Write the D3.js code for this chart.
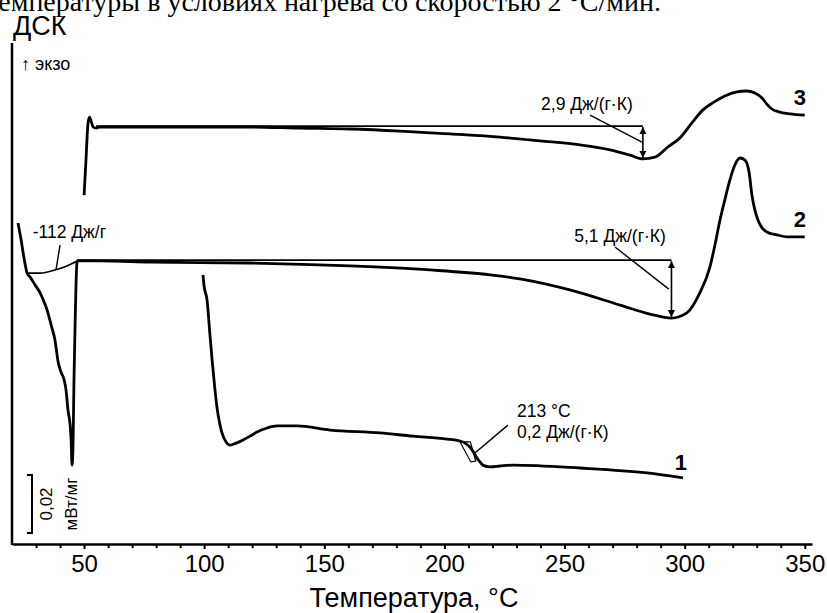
<!DOCTYPE html>
<html>
<head>
<meta charset="utf-8">
<script src="https://cdn.jsdelivr.net/npm/d3@7"></script>
<style>
  html, body { margin: 0; padding: 0; background: #fff; }
  svg { display: block; }
  text { font-family: "Liberation Sans", Arial, sans-serif; fill: #000; }
</style>
</head>
<body>
<svg id="chart" width="827" height="613"></svg>
<script>
// DSC heating curves, heat flow in mW/mg (curves shifted vertically), temperature in °C

// Curve 1
const t1 = [99.5, 99.9, 101.2, 102.4, 103.3, 104.5, 105.3, 106.6, 107.4, 109.1, 110.8, 113.3, 116.2, 119.1, 122.0, 126.2, 130.3, 138.6, 152.4, 173.2, 186.9, 201.1, 206.5, 208.6, 210.6, 212.3, 213.5, 214.8, 216.0, 219.0, 223.1, 228.5, 256.4, 284.3, 299.3];
const hf1 = [0.0928, 0.0893, 0.0841, 0.0721, 0.0634, 0.0531, 0.0472, 0.0410, 0.0383, 0.0352, 0.0341, 0.0348, 0.0359, 0.0372, 0.0386, 0.0400, 0.0407, 0.0407, 0.0393, 0.0383, 0.0372, 0.0362, 0.0355, 0.0348, 0.0334, 0.0314, 0.0297, 0.0283, 0.0272, 0.0266, 0.0269, 0.0272, 0.0262, 0.0245, 0.0228];

// Curve 2
const t2 = [22.5, 23.8, 25.0, 26.3, 27.5, 29.6, 31.7, 33.4, 34.6, 36.3, 37.9, 39.2, 40.4, 41.7, 42.5, 43.3, 44.2, 44.6, 45.0, 45.4, 45.8, 46.3, 46.7, 47.1, 56.7, 77.5, 119.1, 160.7, 194.0, 219.0, 231.4, 252.2, 273.1, 285.5, 294.5, 300.9, 306.3, 310.5, 312.6, 314.7, 316.7, 318.8, 320.9, 323.0, 325.1, 326.8, 328.0, 329.2, 330.5, 332.2, 334.2, 338.4, 342.6, 350.0];
const hf2 = [0.1107, 0.1048, 0.0986, 0.0934, 0.0921, 0.0893, 0.0866, 0.0834, 0.0807, 0.0755, 0.0703, 0.0628, 0.0593, 0.0566, 0.0531, 0.0462, 0.0410, 0.0359, 0.0272, 0.0341, 0.0566, 0.0772, 0.0910, 0.0976, 0.0976, 0.0972, 0.0969, 0.0959, 0.0945, 0.0928, 0.0914, 0.0876, 0.0824, 0.0793, 0.0779, 0.0797, 0.0866, 0.0955, 0.1031, 0.1117, 0.1186, 0.1255, 0.1307, 0.1331, 0.1324, 0.1283, 0.1203, 0.1152, 0.1117, 0.1090, 0.1076, 0.1066, 0.1059, 0.1059];

// Curve 3
const t3 = [50.0, 50.8, 51.3, 51.7, 52.3, 52.9, 53.8, 55.0, 56.7, 77.5, 98.3, 119.1, 139.9, 160.7, 181.5, 202.3, 223.1, 239.8, 256.4, 268.9, 277.2, 282.6, 287.6, 293.0, 298.0, 303.0, 307.6, 311.7, 316.7, 321.7, 325.9, 329.2, 332.2, 334.2, 336.3, 339.2, 343.8, 350.0];
const hf3 = [0.1203, 0.1324, 0.1410, 0.1455, 0.1472, 0.1459, 0.1438, 0.1434, 0.1438, 0.1438, 0.1438, 0.1438, 0.1434, 0.1431, 0.1424, 0.1414, 0.1403, 0.1390, 0.1376, 0.1359, 0.1341, 0.1328, 0.1334, 0.1369, 0.1400, 0.1452, 0.1497, 0.1521, 0.1545, 0.1559, 0.1562, 0.1555, 0.1538, 0.1517, 0.1500, 0.1490, 0.1483, 0.1479];

// Integration baseline under the melting peak of curve 2
const tMeltBase = [26.3, 31.7, 37.9, 42.9, 47.1];
const hfMeltBase = [0.0934, 0.0934, 0.0945, 0.0959, 0.0976];

// Step heights (Δcp) measured at the minima
const step3 = { t: 282.6, from: 0.1441, to: 0.1328, tStart: 55, label: "2,9 Дж/(г·К)" };
const step2 = { t: 294.5, from: 0.0979, to: 0.0779, tStart: 47.1, label: "5,1 Дж/(г·К)" };

// Glass transition of curve 1
const tgLabel = ["213 °C", "0,2 Дж/(г·К)"];
const meltLabel = "-112 Дж/г";
const curveNames = ["1", "2", "3"];

// Axis ticks
const majorTicks = [50, 100, 150, 200, 250, 300, 350];
const minorTicks = d3.range(30, 351, 10).filter(v => v % 50 !== 0);
const scaleBarValue = 0.02;

const svg = d3.select("#chart");
const x = d3.scaleLinear().domain([20, 353]).range([12, 812]);
const y = d3.scaleLinear().domain([0, 0.172]).range([544, 45.2]);

// Title line (continuation from above) and chart header
svg.append("text")
  .attr("x", -14).attr("y", 11)
  .style("font-family", "'Liberation Serif', 'Times New Roman', serif")
  .style("font-size", "28px")
  .text("температуры в условиях нагрева со скоростью 2 °С/мин.");

svg.append("text").attr("x", 13).attr("y", 35)
  .style("font-size", "27px").text("ДСК");

svg.append("text").attr("x", 21).attr("y", 70)
  .style("font-size", "18px").text("↑ экзо");

// Arrow markers
const defs = svg.append("defs");
["start", "end"].forEach(k => {
  defs.append("marker")
    .attr("id", "arr-" + k)
    .attr("viewBox", "0 0 10 10")
    .attr("refX", k === "end" ? 10 : 0).attr("refY", 5)
    .attr("markerWidth", 7).attr("markerHeight", 7)
    .attr("markerUnits", "userSpaceOnUse")
    .attr("orient", "auto")
    .append("path")
    .attr("d", k === "end" ? "M0,0 L10,5 L0,10 Z" : "M10,0 L0,5 L10,10 Z")
    .attr("fill", "#000");
});

// Axes
const xAxis = svg.append("g").attr("transform", "translate(0,544)");
xAxis.append("g")
  .call(d3.axisBottom(x).tickValues(minorTicks).tickSize(4).tickFormat(""))
  .call(g => g.select(".domain").remove())
  .call(g => g.selectAll("line").attr("stroke-width", 2));
xAxis.append("g")
  .call(d3.axisBottom(x).tickValues(majorTicks).tickSize(5).tickSizeOuter(0).tickPadding(6))
  .call(g => g.select(".domain").attr("stroke-width", 2.5))
  .call(g => g.selectAll("line").attr("stroke-width", 2))
  .call(g => g.selectAll("text")
    .style("font-family", "'Liberation Sans', Arial, sans-serif")
    .style("font-size", "24px").attr("fill", "#000"));

svg.append("line")
  .attr("x1", 12).attr("x2", 12).attr("y1", 43).attr("y2", 545)
  .attr("stroke", "#000").attr("stroke-width", 2.5);

svg.append("text")
  .attr("x", 414).attr("y", 607)
  .attr("text-anchor", "middle")
  .style("font-size", "27px")
  .text("Температура, °C");

// Scale bar
const sb0 = 0.0038;
svg.append("path")
  .attr("d", `M27,${y(sb0 + scaleBarValue)} H32 V${y(sb0)} H27`)
  .attr("fill", "none").attr("stroke", "#000").attr("stroke-width", 2);
const sbMid = (y(sb0) + y(sb0 + scaleBarValue)) / 2;
svg.append("text")
  .attr("transform", `translate(52,${sbMid}) rotate(-90)`)
  .attr("text-anchor", "middle").style("font-size", "17px").text("0,02");
svg.append("text")
  .attr("transform", `translate(77,${sbMid}) rotate(-90)`)
  .attr("text-anchor", "middle").style("font-size", "17px").text("мВт/мг");

// Curves
const line = d3.line().x(d => x(d[0])).y(d => y(d[1])).curve(d3.curveMonotoneX);

const curves = [
  { t: t1, hf: hf1 },
  { t: t2, hf: hf2 },
  { t: t3, hf: hf3 }
];

// Thin construction lines first
svg.append("path")
  .attr("d", line(d3.zip(tMeltBase, hfMeltBase)))
  .attr("fill", "none").attr("stroke", "#000").attr("stroke-width", 1.6);

[step3, step2].forEach(s => {
  svg.append("line")
    .attr("x1", x(s.tStart)).attr("x2", x(s.t))
    .attr("y1", y(s.from)).attr("y2", y(s.from))
    .attr("stroke", "#000").attr("stroke-width", 1.6);
  svg.append("line")
    .attr("x1", x(s.t)).attr("x2", x(s.t))
    .attr("y1", y(s.from) + 1).attr("y2", y(s.to) - 1)
    .attr("stroke", "#000").attr("stroke-width", 1.6)
    .attr("marker-start", "url(#arr-start)")
    .attr("marker-end", "url(#arr-end)");
});

// Tangent construction of the glass transition on curve 1
const tgBox = [[206.5, 0.0352], [210.8, 0.0352], [213.0, 0.0286], [211.0, 0.0283], [206.5, 0.0352]];
svg.append("path")
  .attr("d", d3.line().x(d => x(d[0])).y(d => y(d[1]))(tgBox))
  .attr("fill", "none").attr("stroke", "#000").attr("stroke-width", 1.2);

curves.forEach(c => {
  svg.append("path")
    .attr("d", line(d3.zip(c.t, c.hf)))
    .attr("fill", "none").attr("stroke", "#000")
    .attr("stroke-width", 2.8).attr("stroke-linejoin", "round");
});

// Leader lines
const leaders = [
  [[40.0, 0.1031], [38.3, 0.0945]],
  [[260.6, 0.1479], [282.2, 0.1386]],
  [[271.0, 0.1024], [293.4, 0.0879]],
  [[226.4, 0.0410], [212.7, 0.0314]]
];
leaders.forEach(l => {
  svg.append("line")
    .attr("x1", x(l[0][0])).attr("y1", y(l[0][1]))
    .attr("x2", x(l[1][0])).attr("y2", y(l[1][1]))
    .attr("stroke", "#000").attr("stroke-width", 1.4);
});

// Annotation texts
const ann = svg.append("g").style("font-size", "17.5px");
ann.append("text").attr("x", x(28.6)).attr("y", y(0.1055)).text(meltLabel);
ann.append("text").attr("x", x(259.3)).attr("y", y(0.1497))
  .attr("text-anchor", "middle").text(step3.label);
ann.append("text").attr("x", x(273.1)).attr("y", y(0.1041))
  .attr("text-anchor", "middle").text(step2.label);
ann.append("text").attr("x", x(230.2)).attr("y", y(0.0438)).text(tgLabel[0]);
ann.append("text").attr("x", x(230.2)).attr("y", y(0.0366)).text(tgLabel[1]);

// Curve numbers
const nameAt = [[298.4, 0.0255], [348.0, 0.1093], [348.0, 0.1514]];
curveNames.forEach((n, i) => {
  svg.append("text")
    .attr("x", x(nameAt[i][0])).attr("y", y(nameAt[i][1]))
    .attr("text-anchor", "middle")
    .style("font-size", "22px").style("font-weight", "bold")
    .text(n);
});
</script>
</body>
</html>
